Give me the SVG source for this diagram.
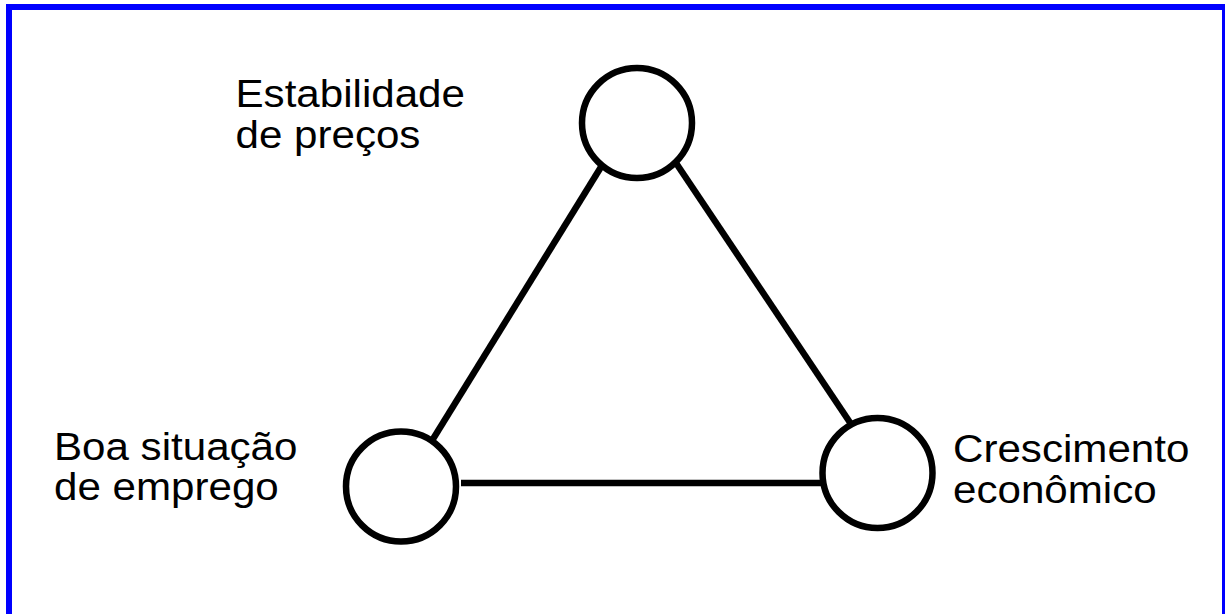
<svg xmlns="http://www.w3.org/2000/svg" width="1225" height="614" viewBox="0 0 1225 614">
<style>
.node{fill:#fff;stroke:#000;stroke-width:6.5}
.edge{stroke:#000;stroke-width:6.5;fill:none}
.lbl{font-family:"Liberation Sans",Arial,sans-serif;font-size:39px;fill:#000}
</style>
<rect x="0" y="0" width="1225" height="614" fill="#fff"/>
<rect x="9" y="7" width="1216" height="614" fill="none" stroke="#0000ff" stroke-width="6"/>
<g id="connectors">
<line class="edge" x1="601" y1="167" x2="433" y2="439"/>
<line class="edge" x1="676" y1="163" x2="851" y2="424"/>
<line class="edge" x1="461" y1="483" x2="822" y2="483"/>
</g>
<g id="node-estabilidade">
<circle class="node" cx="637" cy="123" r="55"/>
<text class="lbl" transform="translate(235.5 107) scale(1.08 1)">Estabilidade</text>
<text class="lbl" transform="translate(235.5 148) scale(1.08 1)">de preços</text>
</g>
<g id="node-emprego">
<circle class="node" cx="401" cy="486.5" r="55"/>
<text class="lbl" transform="translate(54 460) scale(1.08 1)">Boa situação</text>
<text class="lbl" transform="translate(54 500) scale(1.08 1)">de emprego</text>
</g>
<g id="node-crescimento">
<circle class="node" cx="877.5" cy="473" r="55"/>
<text class="lbl" transform="translate(953 462) scale(1.08 1)">Crescimento</text>
<text class="lbl" transform="translate(953 503) scale(1.08 1)">econômico</text>
</g>
</svg>
